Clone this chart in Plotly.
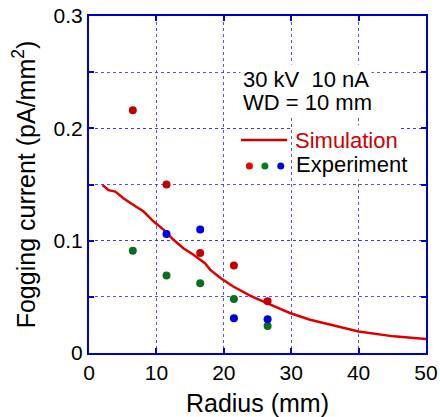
import plotly.graph_objects as go

# Simulation curve
sim_x = [2.0, 2.9, 3.9, 5.1, 6.6, 8.1, 9.6, 11.1, 12.5, 14.0, 15.5, 17.2, 18.0, 19.5,
         21.4, 23.9, 26.4, 29.8, 32.8, 35.8, 40.0, 45.2, 50.0]
sim_y = [0.1496, 0.145, 0.1437, 0.1378, 0.1318, 0.1259, 0.117, 0.1096, 0.101, 0.0933,
         0.0874, 0.080, 0.074, 0.0667, 0.0592, 0.051, 0.0444, 0.0356, 0.0296, 0.025,
         0.0192, 0.0148, 0.0124]

# Experiment points
red_x = [6.5, 11.5, 16.5, 21.5, 26.5]
red_y = [0.216, 0.150, 0.089, 0.078, 0.046]
green_x = [6.5, 11.5, 16.5, 21.5, 26.5]
green_y = [0.091, 0.069, 0.062, 0.048, 0.024]
blue_x = [11.5, 16.5, 21.5, 26.5]
blue_y = [0.106, 0.110, 0.031, 0.030]

x_ticks = [0, 10, 20, 30, 40, 50]
x_ticktext = ["0", "10", "20", "30", "40", "50"]
y_ticks = [0, 0.1, 0.2, 0.3]
y_ticktext = ["0", "0.1", "0.2", "0.3"]

FONT = "Liberation Sans, Arial, sans-serif"
AXIS_BLUE = "#0000cc"
GRID_BLUE = "rgba(50,50,255,0.85)"

fig = go.Figure()
fig.add_trace(go.Scatter(x=sim_x, y=sim_y, mode="lines",
                         line=dict(color="#dd0000", width=2.5), showlegend=False))
fig.add_trace(go.Scatter(x=red_x, y=red_y, mode="markers",
                         marker=dict(color="#c00000", size=8), showlegend=False))
fig.add_trace(go.Scatter(x=green_x, y=green_y, mode="markers",
                         marker=dict(color="#0a6e1e", size=8), showlegend=False))
fig.add_trace(go.Scatter(x=blue_x, y=blue_y, mode="markers",
                         marker=dict(color="#0000dd", size=8), showlegend=False))

axis_common = dict(
    showline=True, linecolor=AXIS_BLUE, linewidth=2, mirror="ticks",
    ticks="inside", ticklen=5, tickwidth=2, tickcolor=AXIS_BLUE,
    showgrid=True, gridcolor=GRID_BLUE, gridwidth=1, griddash="dot",
    zeroline=False, tickfont=dict(family=FONT, size=21, color="black"),
    automargin=False,
)

fig.update_xaxes(range=[0, 50], tickmode="array", tickvals=x_ticks, ticktext=x_ticktext,
                 title=dict(text="Radius (mm)", font=dict(family=FONT, size=25, color="black"),
                            standoff=12),
                 **axis_common)
fig.update_yaxes(range=[0, 0.3], tickmode="array", tickvals=y_ticks, ticktext=y_ticktext,
                 minor=dict(dtick=0.05, tick0=0, ticks="inside", ticklen=5, tickwidth=2,
                            tickcolor=AXIS_BLUE, showgrid=True, gridcolor=GRID_BLUE,
                            gridwidth=1, griddash="dot"),
                 title=dict(text="Fogging current (pA/mm<sup>2</sup>)",
                            font=dict(family=FONT, size=25, color="black"), standoff=11),
                 **axis_common)

ann_font = dict(family=FONT, size=22, color="black")
annotations = [
    dict(x=0.447, y=0.813, text="30 kV\u00a0\u00a010 nA", font=ann_font),
    dict(x=0.447, y=0.742, text="WD = 10 mm", font=ann_font),
    dict(x=0.602, y=0.632, text="Simulation", font=dict(family=FONT, size=22, color="#cc0000")),
    dict(x=0.605, y=0.558, text="Experiment", font=ann_font),
]
for a in annotations:
    a.update(xref="paper", yref="paper", xanchor="left", yanchor="middle",
             showarrow=False, bgcolor="white", borderpad=2)

shapes = [dict(type="line", xref="paper", yref="paper", x0=0.451, x1=0.588, y0=0.632, y1=0.632,
               line=dict(color="#cc0000", width=2.5))]
for xp, c in [(0.476, "#ee0000"), (0.522, "#0a7a1e"), (0.569, "#0000dd")]:
    shapes.append(dict(type="circle", xref="paper", yref="paper", xsizemode="pixel",
                       ysizemode="pixel", xanchor=xp, yanchor=0.555,
                       x0=-3.5, x1=3.5, y0=-3.5, y1=3.5,
                       fillcolor=c, line=dict(color=c, width=0)))

fig.update_layout(
    width=440, height=417,
    margin=dict(l=89, r=14, t=16, b=64),
    paper_bgcolor="white", plot_bgcolor="white",
    annotations=annotations, shapes=shapes,
    showlegend=False,
)

fig.write_html("out.html", config={"displayModeBar": False},
               post_script="document.body.style.margin='0';document.body.style.overflow='hidden';")
